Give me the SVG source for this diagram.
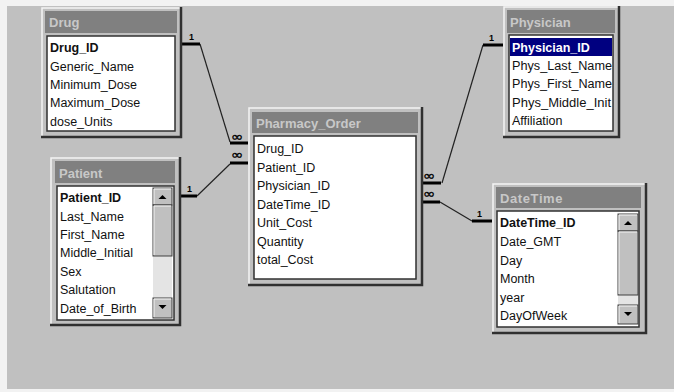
<svg xmlns="http://www.w3.org/2000/svg" width="674" height="392" viewBox="0 0 674 392">
<style>
.win{fill:#c0c0c0}
.hi{fill:none;stroke:#f4f4f4;stroke-width:1.5}
.sh{fill:none;stroke:#303030;stroke-width:2.5}
.tb{fill:#808080}
.tt{font-family:"Liberation Sans",Arial,sans-serif;font-size:13px;font-weight:bold;fill:#c8c8c8}
.lb{fill:#ffffff;stroke:#303030;stroke-width:1.5}
.f{font-family:"Liberation Sans",Arial,sans-serif;font-size:12.5px;fill:#111}
.k{font-weight:bold}
.btn{fill:#c0c0c0;stroke:#404040;stroke-width:1}
.bhl{fill:none;stroke:#f4f4f4;stroke-width:1}
.trk{fill:#e4e4e4}
.arr{fill:#000}
.ln{fill:none;stroke:#222;stroke-width:1.2}
.bar{fill:none;stroke:#000;stroke-width:3}
.one{font-family:"Liberation Sans",Arial,sans-serif;font-size:9px;font-weight:bold;fill:#000}
.inf{font-family:"DejaVu Sans",sans-serif;font-size:13px;fill:#000;stroke:#000;stroke-width:0.4}
</style>
<rect x="0" y="0" width="674" height="392" fill="#f2f2f2"/>
<rect x="7" y="6" width="667" height="383" fill="#c0c0c0"/>

<g id="connectors">
  <polyline class="ln" points="200,44 230,142"/>
  <polyline class="ln" points="197,196 230,164"/>
  <polyline class="ln" points="442,183 483,45"/>
  <polyline class="ln" points="440,202 472,221"/>
  <line class="bar" x1="181" y1="44" x2="200" y2="44"/>
  <line class="bar" x1="179" y1="196" x2="197" y2="196"/>
  <line class="bar" x1="230" y1="143" x2="248" y2="143"/>
  <line class="bar" x1="230" y1="163" x2="248" y2="163"/>
  <line class="bar" x1="422" y1="183" x2="441" y2="183"/>
  <line class="bar" x1="422" y1="202" x2="440" y2="202"/>
  <line class="bar" x1="472" y1="221" x2="492" y2="221"/>
  <line class="bar" x1="483" y1="45" x2="503" y2="45"/>
  <text class="one" x="189" y="40">1</text>
  <text class="one" x="187" y="192">1</text>
  <text class="one" x="489" y="41">1</text>
  <text class="one" x="477" y="217">1</text>
  <text class="inf" x="231" y="141" textLength="12" lengthAdjust="spacingAndGlyphs">∞</text>
  <text class="inf" x="231" y="159" textLength="12" lengthAdjust="spacingAndGlyphs">∞</text>
  <text class="inf" x="423" y="180" textLength="12" lengthAdjust="spacingAndGlyphs">∞</text>
  <text class="inf" x="423" y="198" textLength="12" lengthAdjust="spacingAndGlyphs">∞</text>
</g>

<g id="drug">
  <rect class="win" x="41" y="7" width="140" height="130"/>
  <polyline class="hi" points="42,136 42,8 180,8"/>
  <polyline class="sh" points="181,7 181,137 41,137"/>
  <rect class="tb" x="45" y="11" width="132" height="22"/>
  <text class="tt" x="49" y="27">Drug</text>
  <rect class="lb" x="47" y="36" width="128" height="95"/>
  <text class="f k" x="50" y="52">Drug_ID</text>
  <text class="f" x="50" y="71">Generic_Name</text>
  <text class="f" x="50" y="89">Minimum_Dose</text>
  <text class="f" x="50" y="107">Maximum_Dose</text>
  <text class="f" x="50" y="126">dose_Units</text>
</g>

<g id="patient">
  <rect class="win" x="50" y="157" width="130" height="168"/>
  <polyline class="hi" points="51,324 51,158 179,158"/>
  <polyline class="sh" points="180,157 180,325 50,325"/>
  <rect class="tb" x="55" y="161" width="120" height="22"/>
  <text class="tt" x="59" y="178">Patient</text>
  <rect class="lb" x="57" y="186" width="117" height="134"/>
  <text class="f k" x="60" y="202">Patient_ID</text>
  <text class="f" x="60" y="221">Last_Name</text>
  <text class="f" x="60" y="239">First_Name</text>
  <text class="f" x="60" y="257">Middle_Initial</text>
  <text class="f" x="60" y="276">Sex</text>
  <text class="f" x="60" y="294">Salutation</text>
  <text class="f" x="60" y="313">Date_of_Birth</text>
  <rect class="trk" x="153" y="205" width="19" height="93"/>
  <rect class="btn" x="153" y="188" width="19" height="17"/>
  <polyline class="bhl" points="154,204 154,189 171,189"/>
  <polygon class="arr" points="158.5,199 166.5,199 162.5,195"/>
  <rect class="btn" x="153" y="205" width="19" height="51"/>
  <polyline class="bhl" points="154,255 154,206 171,206"/>
  <rect class="btn" x="153" y="298" width="19" height="20"/>
  <polyline class="bhl" points="154,317 154,299 171,299"/>
  <polygon class="arr" points="158.5,305 166.5,305 162.5,309"/>
</g>

<g id="pharmacy_order">
  <rect class="win" x="248" y="107" width="174" height="178"/>
  <polyline class="hi" points="249,284 249,108 421,108"/>
  <polyline class="sh" points="422,107 422,285 248,285"/>
  <rect class="tb" x="252" y="112" width="166" height="21"/>
  <text class="tt" x="256" y="128">Pharmacy_Order</text>
  <rect class="lb" x="254" y="136" width="162" height="143"/>
  <text class="f" x="257" y="153">Drug_ID</text>
  <text class="f" x="257" y="172">Patient_ID</text>
  <text class="f" x="257" y="190">Physician_ID</text>
  <text class="f" x="257" y="209">DateTime_ID</text>
  <text class="f" x="257" y="227">Unit_Cost</text>
  <text class="f" x="257" y="246">Quantity</text>
  <text class="f" x="257" y="264">total_Cost</text>
</g>

<g id="physician">
  <rect class="win" x="503" y="6" width="116" height="131"/>
  <polyline class="hi" points="504,136 504,7 618,7"/>
  <polyline class="sh" points="619,6 619,137 503,137"/>
  <rect class="tb" x="507" y="10" width="108" height="23"/>
  <text class="tt" x="510" y="27">Physician</text>
  <rect class="lb" x="509" y="35" width="104" height="96"/>
  <rect x="510" y="38" width="102" height="18" fill="#000080"/>
  <text class="f k" x="512" y="52" style="fill:#ffffff">Physician_ID</text>
  <text class="f" x="512" y="70" textLength="100" lengthAdjust="spacingAndGlyphs">Phys_Last_Name</text>
  <text class="f" x="512" y="88" textLength="100" lengthAdjust="spacingAndGlyphs">Phys_First_Name</text>
  <text class="f" x="512" y="107" textLength="99" lengthAdjust="spacingAndGlyphs">Phys_Middle_Init</text>
  <text class="f" x="512" y="125">Affiliation</text>
</g>

<g id="datetime">
  <rect class="win" x="492" y="183" width="154" height="150"/>
  <polyline class="hi" points="493,332 493,184 645,184"/>
  <polyline class="sh" points="646,183 646,333 492,333"/>
  <rect class="tb" x="496" y="187" width="145" height="21"/>
  <text class="tt" x="500" y="203" letter-spacing="0.6">DateTime</text>
  <rect class="lb" x="497" y="211" width="142" height="116"/>
  <text class="f k" x="500" y="227">DateTime_ID</text>
  <text class="f" x="500" y="246">Date_GMT</text>
  <text class="f" x="500" y="265">Day</text>
  <text class="f" x="500" y="283">Month</text>
  <text class="f" x="500" y="302">year</text>
  <text class="f" x="500" y="320">DayOfWeek</text>
  <rect class="trk" x="618" y="231" width="20" height="75"/>
  <rect class="btn" x="618" y="214" width="20" height="17"/>
  <polyline class="bhl" points="619,230 619,215 637,215"/>
  <polygon class="arr" points="624,225 632,225 628,221"/>
  <rect class="btn" x="618" y="231" width="20" height="64"/>
  <polyline class="bhl" points="619,294 619,232 637,232"/>
  <rect class="btn" x="618" y="305" width="20" height="19"/>
  <polyline class="bhl" points="619,323 619,306 637,306"/>
  <polygon class="arr" points="624,312 632,312 628,316"/>
</g>
</svg>
